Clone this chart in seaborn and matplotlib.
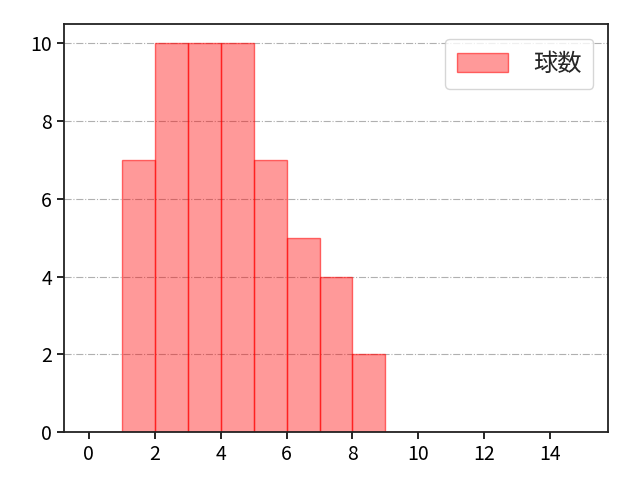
import numpy as np
import pandas as pd
import seaborn as sns
import matplotlib
matplotlib.use('Agg')
import matplotlib.pyplot as plt

# pitch-count bins and how many times each occurred
bin_left = [1, 2, 3, 4, 5, 6, 7, 8]
counts = [7, 10, 10, 10, 7, 5, 4, 2]
bin_edges = list(range(0, 16))

sns.set_style('ticks')
plt.rcParams['font.family'] = ['Noto Sans CJK JP', 'DejaVu Sans']

df = pd.DataFrame({'pitch': [b + 0.5 for b in bin_left], 'n': counts})

fig, ax = plt.subplots(figsize=(6.4, 4.8), dpi=100)
sns.histplot(data=df, x='pitch', weights='n', bins=bin_edges, ax=ax,
             facecolor=(1, 0, 0, 0.4), edgecolor=(1, 0, 0, 0.55), linewidth=1,
             label='球数')
ax.set_xlim(-0.75, 15.75)
ax.set_ylim(0, 10.5)
ax.set_xticks(range(0, 16, 2))
ax.set_yticks(range(0, 11, 2))
ax.grid(axis='y', linestyle='-.', color='#b0b0b0', linewidth=0.8)
ax.set_axisbelow(True)
ax.set_xlabel('')
ax.set_ylabel('')
ax.tick_params(labelsize=14, length=5, width=1.2, colors='black')
for s in ax.spines.values():
    s.set_visible(True)
    s.set_linewidth(1.3)
    s.set_color('#222222')
ax.legend(loc='upper right', fontsize=17.5, handlelength=2.1, handleheight=0.8,
          handletextpad=1.0, borderpad=0.5, borderaxespad=0.6)
plt.subplots_adjust(left=0.1, right=0.95, top=0.95, bottom=0.1)
plt.savefig('out.png')
